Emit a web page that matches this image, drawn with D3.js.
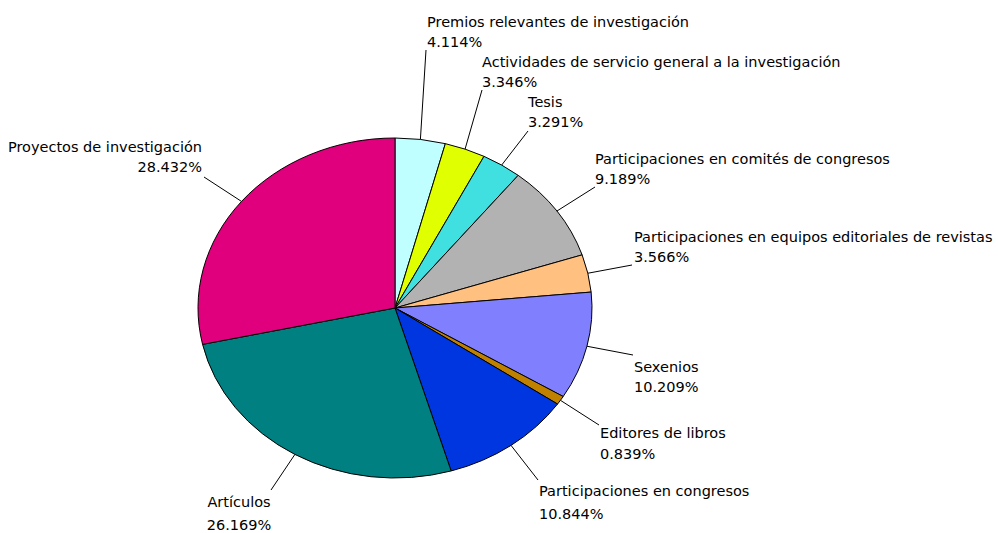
<!DOCTYPE html>
<html>
<head>
<meta charset="utf-8">
<script src="https://cdn.jsdelivr.net/npm/d3@7/dist/d3.min.js"></script>
<style>
  html, body { margin: 0; padding: 0; background: #fff; }
  text { font-family: "DejaVu Sans", Verdana, sans-serif; font-size: 14.5px; fill: #000; }
</style>
</head>
<body>
<svg id="chart" width="998" height="533"></svg>
<script>
// Categories, clockwise from 12 o'clock
const categories = [
  "Premios relevantes de investigación",
  "Actividades de servicio general a la investigación",
  "Tesis",
  "Participaciones en comités de congresos",
  "Participaciones en equipos editoriales de revistas",
  "Sexenios",
  "Editores de libros",
  "Participaciones en congresos",
  "Artículos",
  "Proyectos de investigación"
];
// Share of each category (%)
const shares = [4.114, 3.346, 3.291, 9.189, 3.566, 10.209, 0.839, 10.844, 26.169, 28.432];
const sliceColors = ["#c0ffff", "#e0ff00", "#40e0e0", "#b2b2b2", "#ffc080",
                     "#8080ff", "#c08000", "#0036e0", "#008080", "#e0007e"];

// Label placement: leader end point, text origin, line gap, anchor
const labelLayout = [
  { ex: 426, ey: 50,  tx: 427, ty: 27,  gap: 20, anchor: "start" },
  { ex: 482, ey: 90,  tx: 482, ty: 67,  gap: 20, anchor: "start" },
  { ex: 528, ey: 131, tx: 528, ty: 107, gap: 20, anchor: "start" },
  { ex: 595, ey: 187, tx: 595, ty: 164, gap: 20, anchor: "start" },
  { ex: 632, ey: 265, tx: 634, ty: 242, gap: 20, anchor: "start" },
  { ex: 633, ey: 355, tx: 634, ty: 372, gap: 20, anchor: "start" },
  { ex: 599, ey: 425, tx: 600, ty: 438, gap: 21, anchor: "start" },
  { ex: 538, ey: 480, tx: 539, ty: 496, gap: 23, anchor: "start" },
  { ex: 271, ey: 490, tx: 239, ty: 507, gap: 23, anchor: "middle" },
  { ex: 204, ey: 177, tx: 202, ty: 152, gap: 20, anchor: "end" }
];

const cx = 395, cy = 308, rx = 197, ry = 170;

const svg = d3.select("#chart");
const data = categories.map((c, i) => ({ name: c, value: shares[i], color: sliceColors[i], layout: labelLayout[i] }));

const pie = d3.pie().value(d => d.value).sort(null);
const arcs = pie(data);
const arc = d3.arc().innerRadius(0).outerRadius(ry);

// Elliptical pie: circle of radius ry stretched horizontally
const pieG = svg.append("g")
  .attr("transform", `translate(${cx},${cy}) scale(${rx / ry},1)`);

pieG.selectAll("path")
  .data(arcs)
  .join("path")
  .attr("d", arc)
  .attr("fill", d => d.data.color)
  .attr("stroke", "#000")
  .attr("stroke-width", 1)
  .attr("stroke-linejoin", "round")
  .attr("vector-effect", "non-scaling-stroke");

const fmt = d3.format(".3f");

// Leader lines from the slice rim at its mid-angle
svg.append("g").selectAll("line")
  .data(arcs)
  .join("line")
  .attr("x1", d => cx + rx * Math.sin((d.startAngle + d.endAngle) / 2))
  .attr("y1", d => cy - ry * Math.cos((d.startAngle + d.endAngle) / 2))
  .attr("x2", d => d.data.layout.ex)
  .attr("y2", d => d.data.layout.ey)
  .attr("stroke", "#000")
  .attr("stroke-width", 1);

// Two-line labels: name and percentage
const labels = svg.append("g").selectAll("text")
  .data(arcs)
  .join("text")
  .attr("text-anchor", d => d.data.layout.anchor);

labels.append("tspan")
  .attr("x", d => d.data.layout.tx)
  .attr("y", d => d.data.layout.ty)
  .text(d => d.data.name);

labels.append("tspan")
  .attr("x", d => d.data.layout.tx)
  .attr("y", d => d.data.layout.ty + d.data.layout.gap)
  .text(d => fmt(d.data.value) + "%");
</script>
</body>
</html>
